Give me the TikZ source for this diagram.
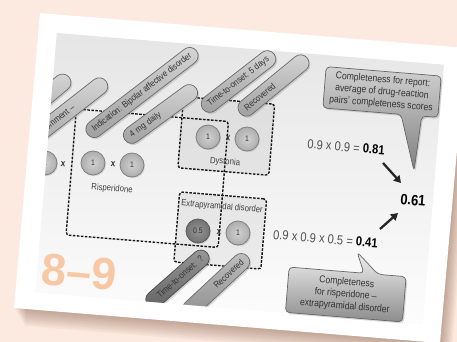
\documentclass[tikz,border=0pt]{standalone}
\usepackage{fontspec}
\setmainfont{Liberation Sans}[FakeStretch=0.86]
\newfontfamily\numfont{Liberation Sans}
\usetikzlibrary{shadows,arrows.meta,calc}
\pgfdeclarelayer{bg}
\pgfdeclarelayer{callbg}
\pgfsetlayers{bg,callbg,main}
\definecolor{peach}{HTML}{FCEAE0}
\definecolor{numpeach}{HTML}{F8C8A5}
\definecolor{txt}{HTML}{333333}
\definecolor{shadowc}{HTML}{6B3F25}
\tikzset{
 pill/.style={rounded corners=8.5pt, minimum height=17pt, inner xsep=7pt, inner ysep=0pt,
   draw=black!58, line width=0.7pt, top color=black!16, bottom color=black!38, text=txt,
   font=\fontsize{9}{10}\selectfont,
   drop shadow={opacity=0.3, shadow xshift=1.4pt, shadow yshift=-1.6pt}},
 darkpill/.style={pill, top color=black!40, bottom color=black!62, draw=black!70},
 midpill/.style={pill, top color=black!25, bottom color=black!45},
 dbox/.style={draw=black!90, line width=1.4pt, dash pattern=on 2.6pt off 1.4pt, rounded corners=3pt, inner sep=0pt, rotate=-4.7},
 disc/.style={circle, minimum size=24pt, inner sep=0pt, draw=black!50, line width=0.8pt, inner color=black!18, outer color=black!32, text=txt, font=\fontsize{8}{9}\selectfont, drop shadow={opacity=0.25, shadow xshift=1pt, shadow yshift=-1.2pt}},
 darkdisc/.style={disc, inner color=black!42, outer color=black!55, draw=black!65},
 times/.style={font=\bfseries\fontsize{9.5}{10}\selectfont, text=txt, inner sep=0pt, rotate=-4.7},
 lbl/.style={font=\fontsize{9}{10}\selectfont, text=black!75, inner sep=0pt, rotate=-4.7},
 eq/.style={font=\fontsize{13}{14}\selectfont, text=black!68, inner sep=0pt, rotate=-4.7},
 callbox/.style={rotate=-4.7, align=center, font=\fontsize{10}{12}\selectfont, text=txt, inner sep=0pt},
 callshape/.style={draw=black!60, line width=0.7pt, rounded corners=4pt, drop shadow={opacity=0.3, shadow xshift=1.4pt, shadow yshift=-1.6pt}},
 bigarrow/.style={line width=2.3pt, black!85, -{Triangle[length=7pt,width=8pt]}},
}
\begin{document}
\begin{tikzpicture}[x=1pt,y=-1pt]
\useasboundingbox (0,0) rectangle (457,342);
\begin{pgfonlayer}{bg}
 \fill[peach] (-5,-5) rectangle (462,347);
 \foreach \k in {1,...,10}
   \fill[shadowc, opacity=0.045, shift={(\k*1.1,\k*1.8)}] (40,13) -- (466,48) -- (440,343) -- (14,308) -- cycle;
 \fill[white] (40,13) -- (466,48) -- (440,343) -- (14,308) -- cycle;
 \shade[top color=black!10, bottom color=black!1] (56.8,33) -- (444,64.7) -- (422.7,324.2) -- (35.5,292.4) -- cycle;
\end{pgfonlayer}

\begin{scope}
 \clip (56.8,33) -- (444,64.7) -- (422.7,324.2) -- (35.5,292.4) -- cycle;
 \node[font=\numfont\bfseries\fontsize{45}{45}\selectfont, text=numpeach, inner sep=0pt, rotate=-4.7] (pg) at (79,272.5) {8–9};
 % dashed boxes
 \node[dbox, minimum width=152.6pt, minimum height=126.4pt] (b1) at (147.25,178.25) {};
 \node[dbox, fill=black, fill opacity=0.05, minimum width=91.3pt, minimum height=71.3pt] (b2) at (226.25,136) {};
 \node[dbox, fill=black, fill opacity=0.05, minimum width=87.3pt, minimum height=70.3pt] (b3) at (220.25,230.5) {};
 % circles
 \node[disc] (c0) at (45,163) {1};
 \node[times] (x0) at (63,164) {x};
 \node[disc] (c1) at (93,163) {1};
 \node[times] (x1) at (113,164) {x};
 \node[disc] (c2) at (132,165) {1};
 \node[lbl] (l1) at (112,189) {Risperidone};
 \node[disc] (c3) at (208,137) {1};
 \node[times] (x2) at (228,138) {x};
 \node[disc] (c4) at (247,139) {1};
 \node[lbl] (l2) at (225,162) {Dystonia};
 \node[lbl] (l3) at (222,207) {Extrapyramidal disorder};
 \node[darkdisc] (c5) at (198,231) {0.5};
 \node[times] (x3) at (219,232) {x};
 \node[disc] (c6) at (238,233) {1};
 % pills
 \node[pill, rotate=40, text width=76pt] (pA) at (34.5,106) {};
 \node[pill, rotate=38, text width=106pt, align=right] (pB) at (58.7,118) {Comment –\rule{34pt}{0pt}};
 \node[pill, rotate=37.5, minimum width=136pt] (pC) at (142,92.5) {Indication: Bipolar affective disorder};
 \node[pill, rotate=36.2, text width=74pt, align=left] (pD) at (160.5,114) {4 mg daily};
 \node[pill, rotate=37.8, minimum width=90pt] (pE) at (238.5,81.5) {Time-to-onset: 5 days};
 \node[pill, rotate=39.4, text width=73pt, align=left] (pF) at (273.5,85.5) {Recovered};
 \node[darkpill, rotate=41.4, text width=65pt, align=right] (pG) at (177.5,279) {Time-to-onset: ?};
 \node[midpill, rotate=43, text width=72pt, align=right] (pH) at (216,285.5) {Recovered};
\end{scope}

% results
\node[eq] (e1) at (346,147) {0.9 x 0.9 = \textcolor{black}{\textbf{0.81}}};
\node[font=\bfseries\fontsize{15}{16}\selectfont, inner sep=0pt, rotate=-4.7] (res) at (413,200) {0.61};
\node[eq] (e2) at (325.5,239) {0.9 x 0.9 x 0.5 = \textcolor{black}{\textbf{0.41}}};
\coordinate (a1s) at (383,163); \coordinate (a1e) at (401,183);
\coordinate (a2s) at (380,229); \coordinate (a2e) at (398,213);
\draw[bigarrow] (a1s) -- (a1e);
\draw[bigarrow] (a2s) -- (a2e);

% callouts
\node[callbox, minimum width=115pt, minimum height=41pt] (cb1) at (382,92) {Completeness for report:\\average of drug-reaction\\pairs’ completeness scores};
\coordinate (t1) at (414,171);
\node[callbox, minimum width=117pt, minimum height=45pt] (cb2) at (345.75,294.5) {Completeness\\for risperidone –\\extrapyramidal disorder};
\coordinate (t2) at (357,252);
\begin{pgfonlayer}{callbg}
 \path[callshape, top color=black!18, bottom color=black!50] (cb1.north west) -- (cb1.north east) -- (cb1.south east) -- ($(cb1.south east)!0.14!(cb1.south west)$) -- (t1) -- ($(cb1.south east)!0.32!(cb1.south west)$) -- (cb1.south west) -- cycle;
 \path[callshape, top color=black!6, bottom color=black!45] (cb2.north west) -- ($(cb2.north west)!0.64!(cb2.north east)$) -- (t2) -- ($(cb2.north west)!0.76!(cb2.north east)$) -- (cb2.north east) -- (cb2.south east) -- (cb2.south west) -- cycle;
\end{pgfonlayer}
\end{tikzpicture}
\end{document}
